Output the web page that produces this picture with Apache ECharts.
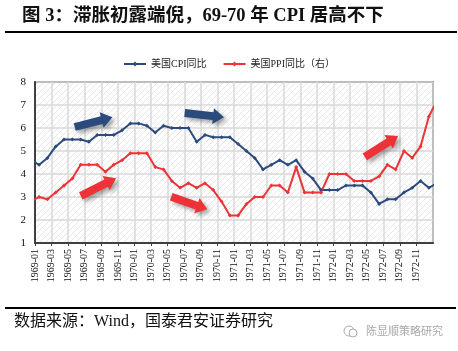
<!DOCTYPE html>
<html>
<head>
<meta charset="utf-8">
<script src="https://cdn.jsdelivr.net/npm/echarts@6/dist/echarts.min.js"></script>
<style>
html, body { margin: 0; padding: 0; background: #fff; }
#chart { width: 458px; height: 351px; }
</style>
</head>
<body>
<div id="chart"></div>
<script>
// 首尾两个月只为画出被图框裁掉的那一小段线
var months = ['1968-12',
    '1969-01', '1969-02', '1969-03', '1969-04', '1969-05', '1969-06', '1969-07', '1969-08', '1969-09', '1969-10', '1969-11', '1969-12',
    '1970-01', '1970-02', '1970-03', '1970-04', '1970-05', '1970-06', '1970-07', '1970-08', '1970-09', '1970-10', '1970-11', '1970-12',
    '1971-01', '1971-02', '1971-03', '1971-04', '1971-05', '1971-06', '1971-07', '1971-08', '1971-09', '1971-10', '1971-11', '1971-12',
    '1972-01', '1972-02', '1972-03', '1972-04', '1972-05', '1972-06', '1972-07', '1972-08', '1972-09', '1972-10', '1972-11', '1972-12',
    '1973-01'];
var cpi = [4.6,
    4.4, 4.7, 5.2, 5.5, 5.5, 5.5, 5.4, 5.7, 5.7, 5.7, 5.9, 6.2,
    6.2, 6.1, 5.8, 6.1, 6.0, 6.0, 6.0, 5.4, 5.7, 5.6, 5.6, 5.6,
    5.3, 5.0, 4.7, 4.2, 4.4, 4.6, 4.4, 4.6, 4.1, 3.8, 3.3, 3.3,
    3.3, 3.5, 3.5, 3.5, 3.2, 2.7, 2.9, 2.9, 3.2, 3.4, 3.7, 3.4,
    3.6];
var ppi = [2.8,
    3.0, 2.9, 3.2, 3.5, 3.8, 4.4, 4.4, 4.4, 4.1, 4.4, 4.6, 4.9,
    4.9, 4.9, 4.3, 4.2, 3.7, 3.4, 3.6, 3.4, 3.6, 3.3, 2.8, 2.2,
    2.2, 2.7, 3.0, 3.0, 3.5, 3.5, 3.2, 4.3, 3.2, 3.2, 3.2, 4.0,
    4.0, 4.0, 3.7, 3.7, 3.7, 3.9, 4.4, 4.2, 5.0, 4.7, 5.2, 6.5,
    7.2];
var yTicks = [1, 2, 3, 4, 5, 6, 7, 8];

var SERIF = '"Liberation Serif", "Noto Sans CJK SC", serif';
var BLUE = '#2b4b7d', RED = '#ee3338';

// 图框里的斜纹底
function hatch() {
    var c = document.createElement('canvas');
    c.width = 6; c.height = 6;
    var g = c.getContext('2d');
    g.fillStyle = '#fff'; g.fillRect(0, 0, 6, 6);
    g.strokeStyle = '#e6e6e6'; g.lineWidth = 1;
    g.beginPath(); g.moveTo(0, 6); g.lineTo(6, 0);
    g.moveTo(-1, 1); g.lineTo(1, -1);
    g.moveTo(5, 7); g.lineTo(7, 5); g.stroke();
    return { image: c, repeat: 'repeat' };
}

// 手画的粗箭头（注释用）
function arrow(x0, y0, x1, y1, color) {
    var dx = x1 - x0, dy = y1 - y0, L = Math.sqrt(dx * dx + dy * dy);
    var ux = dx / L, uy = dy / L, nx = -uy, ny = ux;
    var hl = 11, bw = 4, hw = 8;
    var mx = x1 - ux * hl, my = y1 - uy * hl;
    var pts = [
        [x0 + nx * bw, y0 + ny * bw], [mx + nx * bw, my + ny * bw], [mx + nx * hw, my + ny * hw],
        [x1, y1],
        [mx - nx * hw, my - ny * hw], [mx - nx * bw, my - ny * bw], [x0 - nx * bw, y0 - ny * bw]
    ];
    return {
        type: 'polygon', z: 100, shape: { points: pts },
        style: { fill: color, shadowBlur: 4, shadowOffsetX: 3, shadowOffsetY: 3, shadowColor: 'rgba(0,0,0,0.35)' }
    };
}

function pairs(vals) {
    return vals.map(function (v, i) { return [i - 0.5, v]; });
}

var chart = echarts.init(document.getElementById('chart'));
chart.setOption({
    animation: false,
    backgroundColor: '#fff',
    title: {
        text: '图 3：滞胀初露端倪，69-70 年 CPI 居高不下',
        left: 17, top: 2,
        textStyle: { fontFamily: SERIF, fontSize: 18.5, fontWeight: 'bold', color: '#111' }
    },
    legend: {
        top: 54, left: 'center',
        itemWidth: 22, itemHeight: 6, itemGap: 16,
        textStyle: { fontFamily: SERIF, fontSize: 10, color: '#222' },
        data: ['美国CPI同比', '美国PPI同比（右）']
    },
    grid: {
        left: 35, right: 25, top: 82, bottom: 108,
        show: true, backgroundColor: hatch(), borderColor: '#404040', borderWidth: 1.5
    },
    xAxis: {
        type: 'value', min: 0, max: 48, interval: 2,
        axisLine: { show: true, lineStyle: { color: '#404040', width: 2 } },
        axisTick: { show: true, length: 3, lineStyle: { color: '#404040' } },
        splitLine: { show: true, lineStyle: { color: '#d8d8d8', width: 1.5 } },
        axisLabel: {
            rotate: 90, margin: 6, showMaxLabel: false,
            fontFamily: SERIF, fontSize: 10, color: '#111',
            formatter: function (v) { return months[v + 1] || ''; }
        }
    },
    yAxis: [{
        type: 'value', min: yTicks[0], max: yTicks[yTicks.length - 1], interval: 1,
        axisLine: { show: true, lineStyle: { color: '#404040', width: 2 } },
        axisTick: { show: false },
        splitLine: { show: true, lineStyle: { color: '#d8d8d8', width: 1.5 } },
        axisLabel: { fontFamily: SERIF, fontSize: 11, color: '#111', margin: 9 }
    }, {
        type: 'value', min: yTicks[0], max: yTicks[yTicks.length - 1], interval: 1,
        show: false
    }],
    series: [{
        name: '美国CPI同比', type: 'line', data: pairs(cpi), clip: true,
        symbol: 'diamond', symbolSize: 4, showSymbol: true,
        lineStyle: { color: BLUE, width: 2 }, itemStyle: { color: BLUE }
    }, {
        name: '美国PPI同比（右）', type: 'line', yAxisIndex: 1, data: pairs(ppi), clip: true,
        symbol: 'diamond', symbolSize: 4, showSymbol: true,
        lineStyle: { color: RED, width: 2 }, itemStyle: { color: RED }
    }],
    graphic: [
        { type: 'line', shape: { x1: 5, y1: 32, x2: 457, y2: 32 }, style: { stroke: '#000', lineWidth: 2 } },
        { type: 'line', shape: { x1: 5, y1: 308, x2: 456, y2: 308 }, style: { stroke: '#000', lineWidth: 2 } },
        {
            type: 'text', left: 14, top: 314,
            style: { text: '数据来源：Wind，国泰君安证券研究', font: '16px ' + SERIF, fill: '#111' }
        },
        { type: 'circle', shape: { cx: 349, cy: 331, r: 5 }, style: { fill: 'none', stroke: '#aaa', lineWidth: 1 } },
        { type: 'circle', shape: { cx: 353, cy: 333, r: 4 }, style: { fill: '#fff', stroke: '#aaa', lineWidth: 1 } },
        {
            type: 'text', left: 366, top: 325,
            style: { text: '陈显顺策略研究', font: '11px "Noto Sans CJK SC", sans-serif', fill: '#a8a8a8' }
        },
        arrow(74.7, 127, 112.3, 117.3, BLUE),
        arrow(184.7, 113, 224, 117.3, BLUE),
        arrow(80.8, 195.8, 116, 178.3, RED),
        arrow(171.2, 196.7, 207.3, 209.3, RED),
        arrow(364.8, 156.8, 398, 136, RED)
    ]
});
</script>
</body>
</html>
